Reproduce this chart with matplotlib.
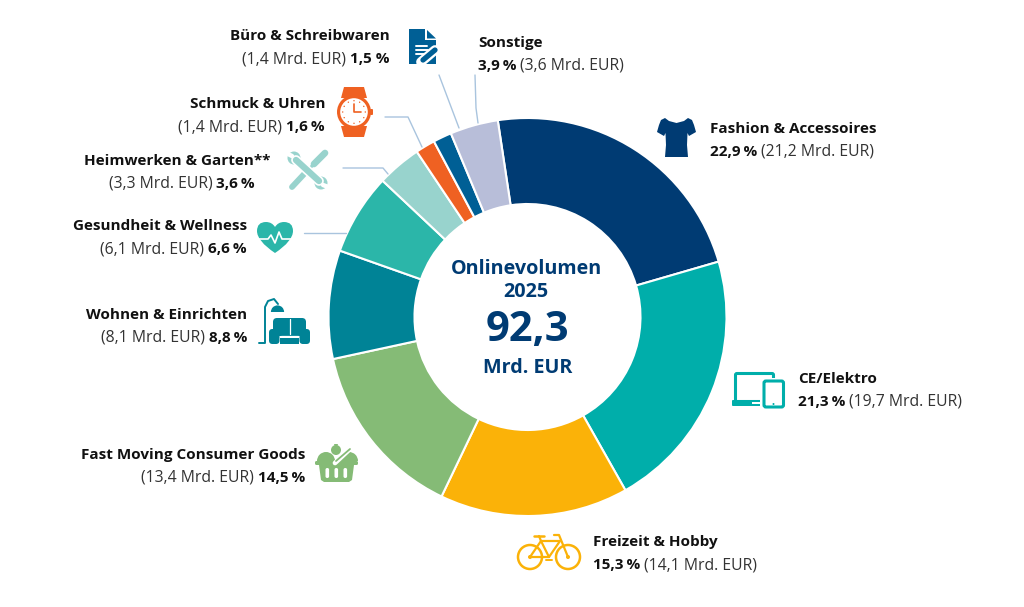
import math
import matplotlib
matplotlib.use('Agg')
import matplotlib.pyplot as plt
import matplotlib.patches as patches
from matplotlib.path import Path

plt.rcParams['font.family'] = ['Open Sans', 'DejaVu Sans']

# data, clockwise from the top
categories = ['Fashion & Accessoires', 'CE/Elektro', 'Freizeit & Hobby', 'Fast Moving Consumer Goods',
              'Wohnen & Einrichten', 'Gesundheit & Wellness', 'Heimwerken & Garten**', 'Schmuck & Uhren',
              'Büro & Schreibwaren', 'Sonstige']
shares = [22.9, 21.3, 15.3, 14.5, 8.8, 6.6, 3.6, 1.6, 1.5, 3.9]
share_labels = ['22,9\u2009%', '21,3\u2009%', '15,3\u2009%', '14,5\u2009%', '8,8\u2009%', '6,6\u2009%', '3,6\u2009%',
                '1,6\u2009%', '1,5 %', '3,9\u2009%']
volume_labels = ['21,2', '19,7', '14,1', '13,4', '8,1', '6,1', '3,3', '1,4', '1,4', '3,6']
colors = ['#003b73', '#00aeaa', '#fbb208', '#85bb76', '#008396', '#2bb6a9', '#98d3cd', '#ef6122', '#005f95', '#b8bed9']

NAVY = '#003b73'
TXT = '#111111'
TXT2 = '#333333'
LINE = '#a9c4de'
FS = 11
FS2 = 11.3

fig = plt.figure(figsize=(10.24, 6.07), dpi=100, facecolor='white')

# donut
ax_pie = fig.add_axes([0, 0, 1, 1], frameon=False)
ax_pie.pie(shares, colors=colors, startangle=98.6, counterclock=False, center=(527.5, 607 - 317), radius=199,
           wedgeprops=dict(width=86, edgecolor='white', linewidth=1.5))
ax_pie.set_xlim(0, 1024)
ax_pie.set_ylim(0, 607)
ax_pie.set_aspect('auto')
ax_pie.axis('off')

# overlay in pixel coordinates
ax = fig.add_axes([0, 0, 1, 1], frameon=False)
ax.set_xlim(0, 1024)
ax.set_ylim(607, 0)
ax.axis('off')


def poly(pts, color):
    ax.add_patch(patches.Polygon(pts, closed=True, fc=color, ec='none'))


def line(pts, color, lw=1.0):
    ax.plot([p[0] for p in pts], [p[1] for p in pts], color=color, lw=lw, solid_capstyle='round',
            solid_joinstyle='round')


def rbox(x, y, w, h, r, fc, ec='none', lw=0):
    ax.add_patch(patches.FancyBboxPatch((x + r, y + r), w - 2 * r, h - 2 * r, boxstyle='round,pad=%f' % r,
                                        fc=fc, ec=ec, lw=lw))


def circle(x, y, r, fc, ec='none', lw=0):
    ax.add_patch(patches.Circle((x, y), r, fc=fc, ec=ec, lw=lw))


def two_part(x, y, first, second, first_bold, align):
    # one line in regular + bold, measured so the two parts sit side by side
    r = fig.canvas.get_renderer()
    w1, w2 = ('bold', 'normal') if first_bold else ('normal', 'bold')
    c1, c2 = (TXT, TXT2) if first_bold else (TXT2, TXT)
    s1, s2 = (FS, FS2) if first_bold else (FS2, FS)
    t1 = ax.text(x, y, first, fontsize=s1, fontweight=w1, color=c1, ha='left', va='center')
    t2 = ax.text(x, y, second, fontsize=s2, fontweight=w2, color=c2, ha='left', va='center')
    e1 = t1.get_window_extent(r).width
    e2 = t2.get_window_extent(r).width
    gap = 4
    start = x if align == 'left' else x - e1 - e2 - gap
    t1.set_x(start)
    t2.set_x(start + e1 + gap)


def label(i, x, y, align, x2=None):
    ax.text(x, y + 1, categories[i], fontsize=FS, fontweight='bold', color=TXT, ha=align, va='center')
    vol = '(%s Mrd. EUR)' % volume_labels[i]
    if x2 is None:
        x2 = x
    if align == 'left':
        two_part(x2, y + 24, share_labels[i], vol, True, 'left')
    else:
        two_part(x2, y + 24, vol, share_labels[i], False, 'right')


label(0, 710, 128, 'left')
label(1, 798, 378, 'left')
label(2, 593, 541, 'left')
label(3, 305, 454, 'right')
label(4, 247, 314, 'right')
label(5, 247, 225, 'right')
label(6, 270, 160, 'right', x2=255)
label(7, 325, 103, 'right')
label(8, 390, 35, 'right')
label(9, 478, 42, 'left')

# centre text
ax.text(526, 269, 'Onlinevolumen', fontsize=14.2, fontweight='bold', color=NAVY, ha='center', va='center')
ax.text(526, 292, '2025', fontsize=14.2, fontweight='bold', color=NAVY, ha='center', va='center')
ax.text(527, 330, '92,3', fontsize=30, fontweight='bold', color=NAVY, ha='center', va='center')
ax.text(528, 368, 'Mrd. EUR', fontsize=14.2, fontweight='bold', color=NAVY, ha='center', va='center')

# leader lines
line([(304, 233), (346, 233)], LINE)
line([(343, 168), (383, 168), (388, 174)], LINE)
line([(385, 117), (408, 117), (422, 147)], LINE)
line([(439, 75), (459, 128)], LINE)
line([(475, 75), (476, 108), (478, 123)], LINE)

# shirt
c = colors[0]
poly([(665, 118), (669, 121), (676.5, 123), (684, 121), (688, 118), (692, 120), (694, 125), (696, 132),
      (689, 136), (687.5, 133), (687, 145), (688, 157), (665, 157), (666, 145), (665.5, 133), (664, 136),
      (657, 132), (659, 125), (661, 120)], c)

# laptop + tablet
c = colors[1]
rbox(735.5, 373.5, 38, 28, 1.5, 'none', ec=c, lw=2.2)
rbox(732, 400, 32, 6, 1, c)
ax.add_patch(patches.Rectangle((752, 402), 9, 1.5, fc='white', ec='none'))
rbox(760, 378, 26, 30, 2, 'white')
rbox(764, 381, 19.5, 26, 2, 'white', ec=c, lw=2.2)
circle(773.5, 404, 1, c)

# bicycle
c = colors[2]
circle(530, 557, 12, 'none', ec=c, lw=1.8)
circle(568, 557, 12, 'none', ec=c, lw=1.8)
circle(530, 557, 2, c)
circle(568, 557, 2, c)
line([(530, 557), (541, 541), (560, 541), (549, 557), (530, 557)], c, 1.6)
line([(541, 541), (549, 557)], c, 1.6)
line([(568, 557), (559, 535), (554, 535)], c, 1.6)
line([(534, 536), (544, 536)], c, 1.8)
line([(539, 536), (541, 541)], c, 1.6)
line([(546, 560), (552, 560)], c, 1.4)

# basket
c = colors[3]
ax.add_patch(patches.Wedge((326, 461), 9, 180, 360, fc=c, ec='none'))
ax.add_patch(patches.Wedge((349, 461), 9, 180, 360, fc=c, ec='none'))
circle(336, 450, 5, c)
poly([(334, 444), (338, 444), (337, 447), (335, 447)], c)
line([(335, 463), (351, 448)], 'white', 3.4)
line([(336, 461), (350, 449)], c, 1.3)
rbox(315, 461, 43, 4, 1.5, c)
poly([(319, 465), (354, 465), (352, 480), (349, 482), (324, 482), (321, 480)], c)
for bx in [325.5, 334.5, 343.5]:
    rbox(bx, 468, 3.6, 10, 1.7, 'white')

# lamp + sofa
c = colors[4]
line([(259, 343), (265, 343), (265, 307), (268, 301), (274, 299), (278, 304)], c, 1.4)
ax.add_patch(patches.Wedge((277.5, 312), 6.6, 180, 360, fc=c, ec='none'))
rbox(273, 318, 33, 18, 4, c)
rbox(269, 329, 10.5, 15, 3.5, c)
rbox(299.5, 329, 10.5, 15, 3.5, c)
ax.add_patch(patches.Rectangle((280, 337.5), 19, 6.5, fc=c, ec='none'))
line([(289.5, 319), (289.5, 334)], 'white', 0.9)
line([(281, 335.5), (298, 335.5)], 'white', 0.9)

# heart with pulse
c = colors[5]
heart = Path([(275, 253), (257, 241), (257, 231), (257, 222), (266, 222), (272, 222), (275, 227),
              (278, 222), (284, 222), (293, 222), (293, 231), (293, 241), (275, 253)],
             [Path.MOVETO] + [Path.CURVE3] * 12)
ax.add_patch(patches.PathPatch(heart, fc=c, ec='none'))
line([(258, 239), (268, 239), (271, 235), (275, 243), (279, 232), (282, 239), (292, 239)], 'white', 1.2)

# screwdriver, then wrench on top of it
c = colors[6]
line([(292, 187), (306, 172)], c, 4.2)
line([(306, 172), (314, 164)], c, 2.2)
line([(314, 164), (325, 153)], c, 4.8)
line([(296, 160), (319, 181)], 'white', 7)
line([(296, 160), (319, 181)], c, 4.6)
circle(294, 158, 6.5, c)
circle(321, 183, 6.5, c)
line([(292, 156), (289, 154.5)], 'white', 3.2)
line([(323, 185), (327, 186.5)], 'white', 3.2)

# watch
c = colors[7]
poly([(344, 87), (364, 87), (367, 98), (341, 98)], c)
poly([(341, 126), (367, 126), (364, 137), (344, 137)], c)
circle(354, 112, 17, c)
rbox(370, 109, 3, 6, 1, c)
circle(354, 112, 13.8, 'white')
for h in range(12):
    a = math.radians(h * 30)
    circle(354 + 11.3 * math.cos(a), 112 + 11.3 * math.sin(a), 0.7, c)
line([(354, 104), (354, 112), (361, 112)], c, 1.2)

# document
c = colors[8]
poly([(409, 29), (425, 29), (425, 40), (436, 40), (436, 64), (409, 64)], c)
poly([(427, 30), (436, 38.5), (427, 38.5)], c)
for ly, lx in [(46, 427), (50, 428), (54, 424)]:
    line([(416, ly), (lx, ly)], 'white', 1.4)
line([(421, 62), (435, 50)], 'white', 7)
line([(423, 60), (435, 50)], c, 3.8)
poly([(419, 64.5), (420, 59), (424.5, 63)], c)

fig.savefig('out.png', dpi=100, facecolor='white')
plt.close(fig)
